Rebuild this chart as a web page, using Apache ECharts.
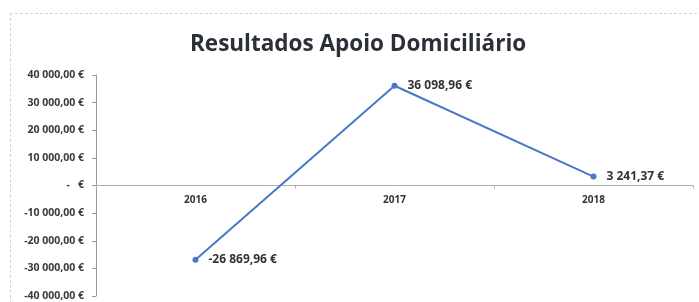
<!DOCTYPE html>
<html lang="pt">
<head>
    <meta charset="UTF-8">
    <title>Resultados Apoio Domiciliário</title>
    <style>
        html, body { margin: 0; padding: 0; background: #fff; }
        #frame { position: absolute; left: 10px; top: 13px; width: 686px; height: 289px;
                 border-top: 1px dashed #d4d4d4; border-left: 1px dashed #d4d4d4; }
        #main { position: absolute; left: 0; top: 0; width: 699px; height: 302px; }
    </style>
</head>
<body>
<div id="frame"></div>
<div id="main"></div>
<script src="https://cdn.jsdelivr.net/npm/echarts@6/dist/echarts.min.js"></script>
<script>
    var anos = ['2016', '2017', '2018'];
    var resultados = [-26869.96, 36098.96, 3241.37];
    var yMin = -40000, yMax = 40000, yStep = 10000;

    // formato português: 36 098,96 €
    function euro(v) {
        if (v === 0) return '-   €';
        var neg = v < 0;
        var parts = Math.abs(v).toFixed(2).split('.');
        var inteiro = parts[0].replace(/\B(?=(\d{3})+(?!\d))/g, ' ');
        return (neg ? '-' : '') + inteiro + ',' + parts[1] + ' €';
    }

    var gridTop = 75, gridBottom = 6;
    // eixo das categorias desenhado no zero (a meio da grelha)
    var zeroOffset = -(302 - gridTop - gridBottom) / 2;

    var myChart = echarts.init(document.getElementById('main'));
    var option = {
        backgroundColor: 'transparent',
        title: {
            text: 'Resultados Apoio Domiciliário',
            left: 185,
            top: 28,
            textStyle: {
                fontFamily: 'Open Sans',
                fontWeight: 'bold',
                fontSize: 22.5,
                color: '#2b2f3a'
            }
        },
        grid: {
            left: 96,
            right: 6,
            top: gridTop,
            bottom: gridBottom,
            containLabel: false
        },
        xAxis: {
            type: 'category',
            data: anos,
            boundaryGap: true,
            position: 'bottom',
            offset: zeroOffset,
            axisLine: { onZero: false, lineStyle: { color: '#b0b0b0' } },
            axisTick: { show: true, length: 3, lineStyle: { color: '#b0b0b0' } },
            axisLabel: {
                margin: 10,
                color: '#333',
                fontFamily: 'Open Sans',
                fontWeight: 'bold',
                fontSize: 10
            }
        },
        yAxis: {
            type: 'value',
            min: yMin,
            max: yMax,
            interval: yStep,
            axisLine: { show: true, lineStyle: { color: '#9a9a9a' } },
            axisTick: { show: true, length: 4, lineStyle: { color: '#9a9a9a' } },
            splitLine: { show: false },
            axisLabel: {
                margin: 12,
                color: '#3a3a3a',
                fontFamily: 'Open Sans',
                fontWeight: 'bold',
                fontSize: 10.5,
                formatter: euro
            }
        },
        series: [
            {
                type: 'line',
                data: resultados,
                symbol: 'circle',
                symbolSize: 6,
                lineStyle: { color: '#4a78c8', width: 2 },
                itemStyle: { color: '#4a78c8' },
                label: {
                    show: true,
                    position: 'right',
                    distance: 10,
                    color: '#333',
                    fontFamily: 'Open Sans',
                    fontWeight: 'bold',
                    fontSize: 12,
                    formatter: function (p) { return euro(p.value); }
                }
            }
        ]
    };
    myChart.setOption(option);
</script>
</body>
</html>
